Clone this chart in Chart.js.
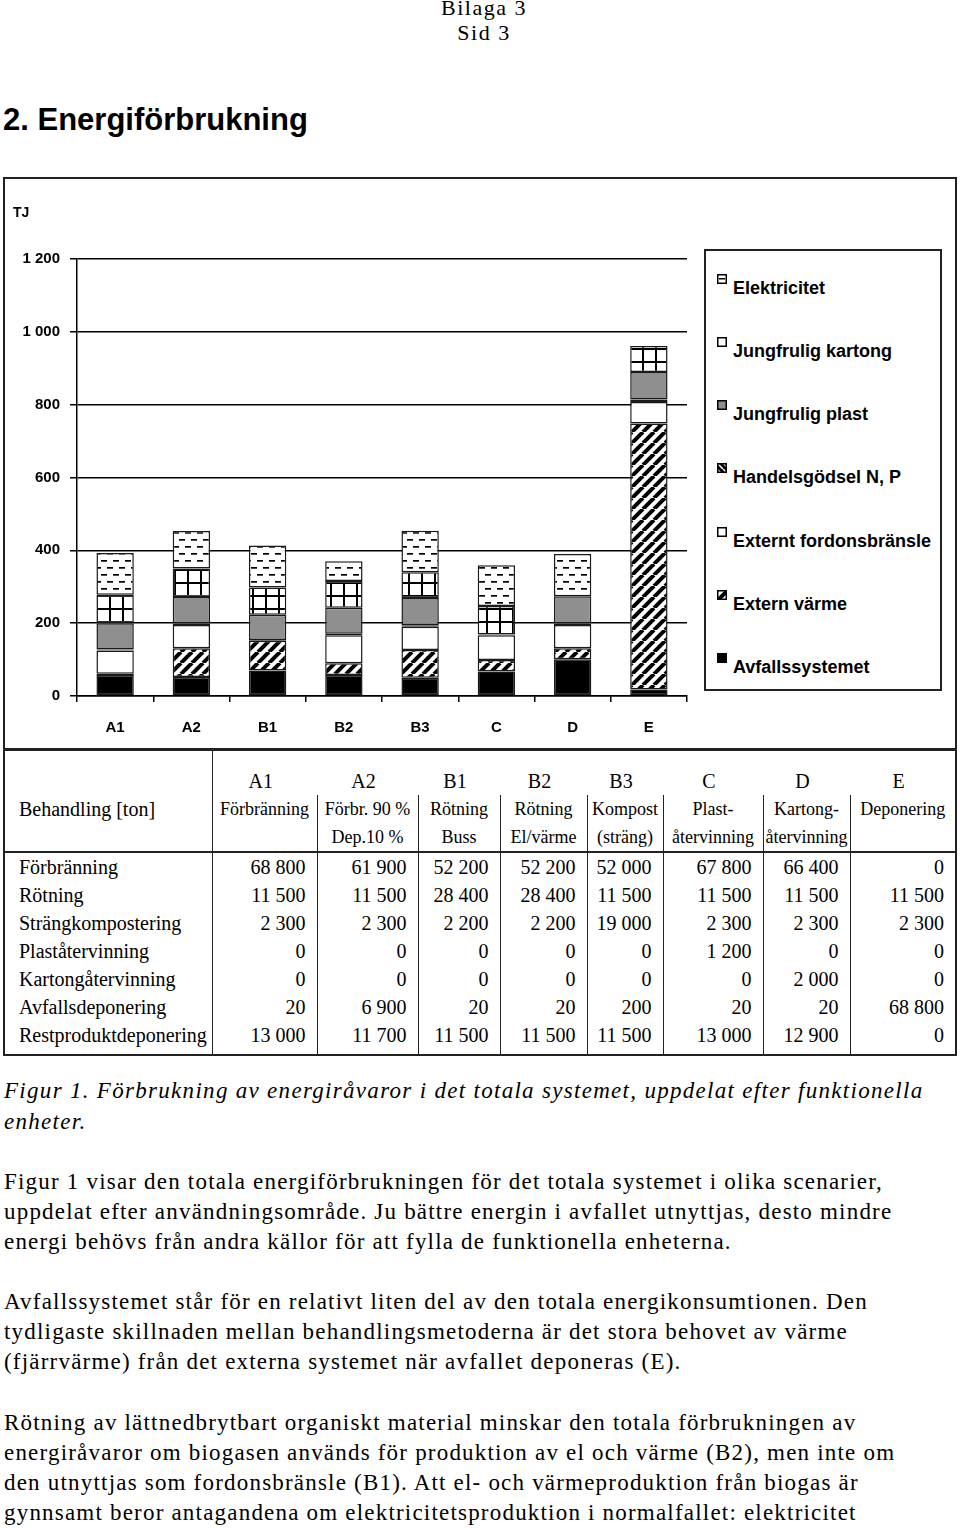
<!DOCTYPE html>
<html>
<head>
<meta charset="utf-8">
<script src="https://cdn.jsdelivr.net/npm/chart.js@4"></script>
<style>
  body { margin: 0; width: 960px; height: 1528px; position: relative; background: #fff; color: #000; overflow: hidden; }
  .serif { font-family: 'Liberation Serif', 'Times New Roman', serif; }
  #bilaga { position: absolute; left: 414px; top: -5px; width: 140px; text-align: center; font-size: 22px; letter-spacing: 1.5px; line-height: 25px; }
  #rubrik { position: absolute; left: 3px; top: 102px; margin: 0; font: bold 31px 'Liberation Sans', Arial, sans-serif; line-height: 36px; }
  #chartbox { position: absolute; left: 3px; top: 177px; width: 954px; height: 573px; box-sizing: border-box; border: 2px solid #222; }
  #canvaswrap { position: absolute; left: 0; top: 0; width: 690px; height: 569px; }
  #tj { position: absolute; left: 8px; top: 25px; font: bold 14px 'Liberation Sans', Arial, sans-serif; }
  #legend { position: absolute; left: 699px; top: 70px; width: 238px; height: 442px; box-sizing: border-box; border: 2px solid #222; }
  .litem { position: absolute; left: 27px; font: bold 18px 'Liberation Sans', Arial, sans-serif; line-height: 22px; white-space: nowrap; }
  .licon { position: absolute; left: -16px; top: -3px; width: 10px; height: 10px; }
  #tbl { position: absolute; left: 3px; top: 749px; width: 952px; border-collapse: collapse; table-layout: fixed; font-size: 20px; border: 2px solid #222; }
  #tbl td { padding: 0; line-height: 28px; white-space: nowrap; overflow: visible; }
  #tbl .sub { font-size: 18px; text-align: center; }
  #tbl .num { text-align: right; padding-right: 11px; }
  #tbl .lab { padding-left: 14px; }
  .txt { position: absolute; left: 4px; font-size: 23px; letter-spacing: 1.2px; line-height: 30px; white-space: nowrap; }
</style>
</head>
<body>
<div id="bilaga" class="serif">Bilaga 3<br>Sid 3</div>
<h2 id="rubrik">2. Energiförbrukning</h2>

<div id="chartbox">
  <div id="canvaswrap"><canvas id="chart"></canvas></div>
  <div id="tj">TJ</div>
  <div id="legend"></div>
</div>

<table id="tbl" class="serif"></table>

<div class="txt serif" style="top:1075px; line-height:31px; font-style:italic; letter-spacing:1.3px;">Figur 1. Förbrukning av energiråvaror i det totala systemet, uppdelat efter funktionella<br>enheter.</div>
<div class="txt serif" style="top:1167px;">Figur 1 visar den totala energiförbrukningen för det totala systemet i olika scenarier,<br>uppdelat efter användningsområde. Ju bättre energin i avfallet utnyttjas, desto mindre<br>energi behövs från andra källor för att fylla de funktionella enheterna.</div>
<div class="txt serif" style="top:1287px;">Avfallssystemet står för en relativt liten del av den totala energikonsumtionen. Den<br>tydligaste skillnaden mellan behandlingsmetoderna är det stora behovet av värme<br>(fjärrvärme) från det externa systemet när avfallet deponeras (E).</div>
<div class="txt serif" style="top:1408px;">Rötning av lättnedbrytbart organiskt material minskar den totala förbrukningen av<br>energiråvaror om biogasen används för produktion av el och värme (B2), men inte om<br>den utnyttjas som fordonsbränsle (B1). Att el- och värmeproduktion från biogas är<br>gynnsamt beror antagandena om elektricitetsproduktion i normalfallet: elektricitet</div>

<script>
// scenarios on the x axis
const scenarios = ['A1', 'A2', 'B1', 'B2', 'B3', 'C', 'D', 'E']

// TJ per scenario (bottom to top)
const avfallssystemet       = [58, 52, 70, 58, 50, 67, 101, 18]
const externVarme           = [3, 79, 82, 32, 76, 32, 30, 730]
const externtFordonsbransle = [64, 64, 0, 77, 64, 68, 64, 59]
const handelsgodsel         = [3, 4, 2, 4, 4, 2, 4, 7]
const jungfruligPlast       = [72, 73, 69, 71, 75, 0, 75, 76]
const jungfruligKartong     = [78, 78, 75, 74, 71, 78, 0, 71]
const elektricitet          = [115, 103, 115, 54, 114, 112, 116, 0]

const yMax = 1200
const yStep = 200

// table under the chart
const tableSub1 = ['Förbränning', 'Förbr. 90 %', 'Rötning', 'Rötning', 'Kompost', 'Plast-', 'Kartong-', 'Deponering']
const tableSub2 = ['', 'Dep.10 %', 'Buss', 'El/värme', '(sträng)', 'återvinning', 'återvinning', '']
const tableRowLabels = ['Förbränning', 'Rötning', 'Strängkompostering', 'Plaståtervinning', 'Kartongåtervinning', 'Avfallsdeponering', 'Restproduktdeponering']
const tForbranning   = [68800, 61900, 52200, 52200, 52000, 67800, 66400, 0]
const tRotning       = [11500, 11500, 28400, 28400, 11500, 11500, 11500, 11500]
const tStrangkomp    = [2300, 2300, 2200, 2200, 19000, 2300, 2300, 2300]
const tPlastatervinn = [0, 0, 0, 0, 0, 1200, 0, 0]
const tKartongaterv  = [0, 0, 0, 0, 0, 0, 2000, 0]
const tAvfallsdep    = [20, 6900, 20, 20, 200, 20, 20, 68800]
const tRestprodukt   = [13000, 11700, 11500, 11500, 11500, 13000, 12900, 0]

const spaced = v => String(v).replace(/\B(?=(\d{3})+$)/g, ' ')

// --- fill patterns ---
function makePattern(w, h, draw) {
  const c = document.createElement('canvas')
  c.width = w; c.height = h
  const g = c.getContext('2d')
  draw(g, w, h)
  return g.createPattern(c, 'repeat')
}

const hatchFill = makePattern(11, 11, (g, w, h) => {
  g.fillStyle = '#fff'; g.fillRect(0, 0, w, h)
  g.strokeStyle = '#000'; g.lineWidth = 4
  for (const k of [-11, 0, 11]) { g.beginPath(); g.moveTo(k, h); g.lineTo(k + w, 0); g.stroke() }
})
const darkHatchFill = makePattern(6, 6, (g, w, h) => {
  g.fillStyle = '#000'; g.fillRect(0, 0, w, h)
  g.strokeStyle = '#fff'; g.lineWidth = 1.5
  for (const k of [-6, 0, 6]) { g.beginPath(); g.moveTo(k, 0); g.lineTo(k + w, h); g.stroke() }
})
const gridFill = makePattern(13, 13, (g, w, h) => {
  g.fillStyle = '#fff'; g.fillRect(0, 0, w, h)
  g.fillStyle = '#000'; g.fillRect(0, 0, w, 2); g.fillRect(0, 0, 2, h)
})
const dashFill = makePattern(12, 14, (g, w, h) => {
  g.fillStyle = '#fff'; g.fillRect(0, 0, w, h)
  g.fillStyle = '#000'; g.fillRect(0, 3, 6, 1.7); g.fillRect(6, 10, 6, 1.7)
})

const series = [
  { label: 'Avfallssystemet',        data: avfallssystemet,       fill: '#000' },
  { label: 'Extern värme',           data: externVarme,           fill: hatchFill },
  { label: 'Externt fordonsbränsle', data: externtFordonsbransle, fill: '#fff' },
  { label: 'Handelsgödsel N, P',     data: handelsgodsel,         fill: darkHatchFill },
  { label: 'Jungfrulig plast',       data: jungfruligPlast,       fill: '#8f8f8f' },
  { label: 'Jungfrulig kartong',     data: jungfruligKartong,     fill: gridFill },
  { label: 'Elektricitet',           data: elektricitet,          fill: dashFill }
]

const bold15 = { family: "'Liberation Sans', Arial, sans-serif", size: 15, weight: 'bold' }

new Chart(document.getElementById('chart'), {
  type: 'bar',
  data: {
    labels: scenarios,
    datasets: series.map(s => ({
      label: s.label,
      data: s.data.map(v => v || null),
      backgroundColor: s.fill,
      borderColor: '#1a1a1a',
      borderWidth: 1.5,
      borderSkipped: false,
      categoryPercentage: 0.49,
      barPercentage: 1
    }))
  },
  options: {
    responsive: true,
    maintainAspectRatio: false,
    animation: false,
    devicePixelRatio: 1,
    events: [],
    layout: { padding: { top: 80, right: 8, left: 0, bottom: 0 } },
    plugins: { legend: { display: false }, tooltip: { enabled: false } },
    scales: {
      x: {
        stacked: true,
        afterFit: s => { s.height = 52 },
        grid: { offset: true, drawOnChartArea: false, drawTicks: true, tickLength: 6, color: '#000', lineWidth: 1.5 },
        border: { display: true, color: '#000', width: 1.5 },
        ticks: { color: '#000', font: bold15, padding: 17 }
      },
      y: {
        stacked: true,
        min: 0, max: yMax,
        afterFit: s => { s.width = 72 },
        grid: { color: '#000', lineWidth: 1.5, tickLength: 7 },
        border: { display: true, color: '#000', width: 1.5 },
        ticks: { stepSize: yStep, color: '#000', font: bold15, padding: 10, callback: v => spaced(v) }
      }
    }
  }
})

// --- legend (top item = top of stack) ---
const legendEl = document.getElementById('legend')
const legendCenters = [37, 100, 163, 226, 290, 353, 416]
series.slice().reverse().forEach((s, i) => {
  const item = document.createElement('div')
  item.className = 'litem'
  item.style.top = (legendCenters[i] - 11) + 'px'
  const ic = document.createElement('canvas')
  ic.className = 'licon'
  ic.width = 10; ic.height = 10
  const g = ic.getContext('2d')
  g.fillStyle = s.fill === gridFill || s.fill === dashFill ? '#fff' : s.fill
  g.fillRect(0, 0, 10, 10)
  if (s.fill === dashFill) { g.fillStyle = '#000'; g.fillRect(2, 4, 6, 1.5) }
  g.strokeStyle = '#000'; g.lineWidth = 1.5
  g.strokeRect(0.75, 0.75, 8.5, 8.5)
  item.appendChild(ic)
  item.appendChild(document.createTextNode(s.label))
  legendEl.appendChild(item)
})

// --- table ---
const colWidths = [208, 105, 101, 82, 87, 76, 100, 87, 106]
const tableRows = [tForbranning, tRotning, tStrangkomp, tPlastatervinn, tKartongaterv, tAvfallsdep, tRestprodukt]
const line = '1.5px solid #222'
let html = '<colgroup>' + colWidths.map(w => `<col style="width:${w}px">`).join('') + '</colgroup>'
html += `<tr style="height:45px"><td style="border-right:${line}"></td>` +
  scenarios.map(c => `<td style="text-align:center;vertical-align:bottom;padding-right:8px">${c}</td>`).join('') + '</tr>'
html += `<tr style="height:28px"><td class="lab" style="border-right:${line}">Behandling [ton]</td>` +
  tableSub1.map((t, i) => `<td class="sub" style="border-left:${i ? line : 'none'}">${t}</td>`).join('') + '</tr>'
html += `<tr style="height:28px;border-bottom:2px solid #222"><td style="border-right:${line}"></td>` +
  tableSub2.map((t, i) => `<td class="sub" style="border-left:${i ? line : 'none'}">${t}</td>`).join('') + '</tr>'
tableRows.forEach((r, ri) => {
  const last = ri === tableRows.length - 1
  const pad = last ? 'padding-bottom:5px;' : ''
  html += `<tr><td class="lab" style="${pad}border-right:${line}">${tableRowLabels[ri]}</td>` +
    r.map((v, i) => `<td class="num" style="${pad}border-left:${i ? line : 'none'}">${spaced(v)}</td>`).join('') + '</tr>'
})
document.getElementById('tbl').innerHTML = html
</script>
</body>
</html>
